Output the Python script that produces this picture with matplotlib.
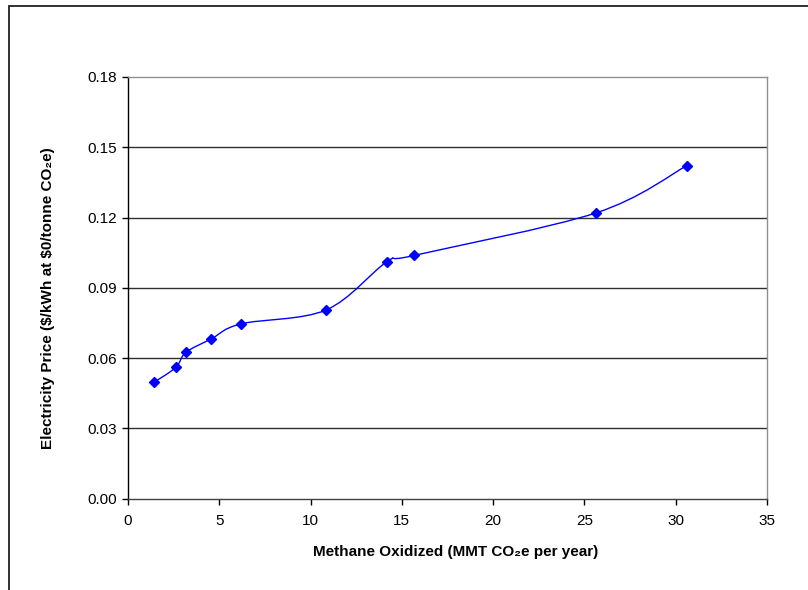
import matplotlib
matplotlib.use("Agg")
import matplotlib.pyplot as plt
from matplotlib.path import Path
from matplotlib.patches import PathPatch, Rectangle
import numpy as np

plt.rcParams['font.family'] = ['Liberation Sans', 'DejaVu Sans']

# methane oxidized (MMT CO2e per year) vs electricity price ($/kWh)
methane = [1.44, 2.62, 3.17, 4.57, 6.2, 10.85, 14.2, 15.67, 25.65, 30.6]
price = [0.0497, 0.0560, 0.0624, 0.0682, 0.0746, 0.0805, 0.1012, 0.1038, 0.1220, 0.1421]

xticks = [0, 5, 10, 15, 20, 25, 30, 35]
yticks = [0.00, 0.03, 0.06, 0.09, 0.12, 0.15, 0.18]


def smooth_path(x, y):
    # excel style smoothed line: bezier segments through every point
    x = np.asarray(x, float)
    y = np.asarray(y, float)
    n = len(x)
    verts = [(x[0], y[0])]
    codes = [Path.MOVETO]
    for i in range(n - 1):
        x0, y0 = (x[i - 1], y[i - 1]) if i > 0 else (x[i], y[i])
        x3, y3 = (x[i + 2], y[i + 2]) if i + 2 < n else (x[i + 1], y[i + 1])
        c1 = (x[i] + (x[i + 1] - x0) / 6, y[i] + (y[i + 1] - y0) / 6)
        c2 = (x[i + 1] - (x3 - x[i]) / 6, y[i + 1] - (y3 - y[i]) / 6)
        verts += [c1, c2, (x[i + 1], y[i + 1])]
        codes += [Path.CURVE4] * 3
    return Path(verts, codes)


fig = plt.figure(figsize=(8.08, 5.9), dpi=100)
fig.patches.append(Rectangle((9 / 808, -0.2), 1.5, 1.2 - 6 / 590, transform=fig.transFigure,
                             fill=False, edgecolor='#202020', linewidth=1.3))

ax = fig.add_axes([128 / 808, 1 - 498.5 / 590, 639 / 808, 421.5 / 590])

for yv in yticks[1:-1]:
    ax.axhline(yv, color='#303030', linewidth=1, zorder=1)

ax.add_patch(PathPatch(smooth_path(methane, price), facecolor='none', edgecolor='#0000FF',
                       linewidth=1, zorder=3))
ax.plot(methane, price, linestyle='none', marker='D', markersize=5.5, color='#0000FF', zorder=4)

ax.set_xlim(0, 35)
ax.set_ylim(0, 0.18)
ax.set_xticks(xticks)
ax.set_yticks(yticks)
ax.set_yticklabels(['%.2f' % v for v in yticks])
ax.tick_params(axis='both', direction='out', length=4, width=1, labelsize=11, colors='black')
ax.tick_params(axis='x', pad=7)
ax.tick_params(axis='y', pad=4)

ax.spines['left'].set_color('black')
ax.spines['bottom'].set_color('#404040')
ax.spines['top'].set_color('#909090')
ax.spines['right'].set_color('#909090')
for s in ax.spines.values():
    s.set_linewidth(1)

ax.set_xlabel('Methane Oxidized (MMT CO\u2082e per year)', fontsize=11, fontweight='bold')
ax.set_ylabel(r'Electricity Price (\$/kWh at \$0/tonne CO' + '\u2082e)', fontsize=11,
              fontweight='bold')
ax.xaxis.set_label_coords(0.512, -0.11)
ax.yaxis.set_label_coords(-0.115, 0.475)

fig.savefig('out.png', dpi=100)
